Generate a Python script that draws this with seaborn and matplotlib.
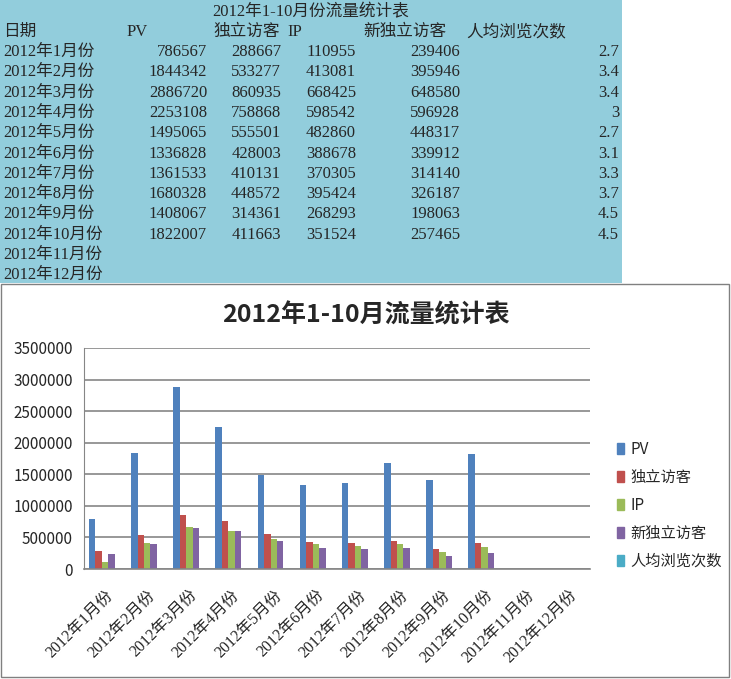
import numpy as np
import pandas as pd
import matplotlib
matplotlib.use("Agg")
import matplotlib.pyplot as plt
import matplotlib.patches as mpatches
import seaborn as sns

# data
months = ["2012年1月份", "2012年2月份", "2012年3月份", "2012年4月份", "2012年5月份",
          "2012年6月份", "2012年7月份", "2012年8月份", "2012年9月份", "2012年10月份",
          "2012年11月份", "2012年12月份"]
series = ["PV", "独立访客", "IP", "新独立访客", "人均浏览次数"]
pv = [786567, 1844342, 2886720, 2253108, 1495065, 1336828, 1361533, 1680328, 1408067, 1822007]
uv = [288667, 533277, 860935, 758868, 555501, 428003, 410131, 448572, 314361, 411663]
ip = [110955, 413081, 668425, 598542, 482860, 388678, 370305, 395424, 268293, 351524]
new_uv = [239406, 395946, 648580, 596928, 448317, 339912, 314140, 326187, 198063, 257465]
views_per = [2.7, 3.4, 3.4, 3, 2.7, 3.1, 3.3, 3.7, 4.5, 4.5]
yticks = [0, 500000, 1000000, 1500000, 2000000, 2500000, 3000000, 3500000]
colors = ["#4F81BD", "#C0504D", "#9BBB59", "#8064A2", "#4BACC6"]

table_title = "2012年1-10月份流量统计表"
chart_title = "2012年1-10月流量统计表"

sns.set_style("white")
plt.rcParams["font.family"] = ["Noto Sans CJK SC", "DejaVu Sans"]
serif = ["Liberation Serif", "Noto Sans CJK SC"]

W, H = 731, 679
fig = plt.figure(figsize=(W / 100, H / 100), dpi=100)


def fx(x):
    return x / W


def fy(y):
    return 1 - y / H


# spreadsheet block on top
fig.patches.append(mpatches.Rectangle((0, fy(283)), fx(622), 283 / H,
                                      transform=fig.transFigure,
                                      facecolor="#92CDDC", edgecolor="none", zorder=0))
fig.patches.append(mpatches.Rectangle((fx(1), fy(677)), fx(728), (677 - 284) / H,
                                      transform=fig.transFigure,
                                      facecolor="none", edgecolor="#808080", lw=1, zorder=0))

tsize = 12
fig.text(fx(311), fy(12), table_title, ha="center", va="center", fontsize=tsize, family=serif)
headers = ["日期", "PV", "独立访客", "IP", "新独立访客", "人均浏览次数"]
header_x = [3, 127, 213, 287, 363, 466]
for h, x in zip(headers, header_x):
    fig.text(fx(x), fy(32), h, ha="left", va="center", fontsize=tsize, family=serif)

cols = [pv, uv, ip, new_uv, views_per]
col_right = [207, 281, 356, 460, 619]
for i, m in enumerate(months):
    y = 52 + 20.3 * i
    fig.text(fx(3), fy(y), m, ha="left", va="center", fontsize=tsize, family=serif)
    if i < len(pv):
        for vals, xr in zip(cols, col_right):
            fig.text(fx(xr), fy(y), str(vals[i]), ha="right", va="center",
                     fontsize=tsize, family=serif)

# chart
df = pd.DataFrame({"月份": months[:len(pv)], "PV": pv, "独立访客": uv, "IP": ip,
                   "新独立访客": new_uv, "人均浏览次数": views_per})
long = df.melt(id_vars="月份", var_name="指标", value_name="值")

ax = fig.add_axes([fx(84), fy(569), fx(590) - fx(84), fy(348) - fy(569)])
sns.barplot(data=long, x="月份", y="值", hue="指标", order=months, hue_order=series,
            palette=colors, width=0.77, saturation=1, errorbar=None, linewidth=0,
            legend=False, ax=ax)

ax.set_ylim(0, 3500000)
ax.set_yticks(yticks)
ax.set_yticklabels([str(t) for t in yticks], fontsize=11)
ax.set_xlabel("")
ax.set_ylabel("")
ax.grid(axis="y", color="#868686", lw=1.2)
ax.set_axisbelow(True)
for s in ["top", "right"]:
    ax.spines[s].set_visible(False)
ax.spines["left"].set_color("#868686")
ax.spines["bottom"].set_color("#868686")
ax.spines["bottom"].set_linewidth(1.2)
ax.tick_params(axis="y", length=0, pad=8)
ax.tick_params(axis="x", length=0, pad=13)
for lab in ax.get_xticklabels():
    lab.set_rotation(45)
    lab.set_ha("right")
    lab.set_rotation_mode("anchor")
    lab.set_fontsize(11.5)
    lab.set_family(serif)

fig.text(fx(366), fy(315), chart_title, ha="center", va="center", fontsize=18,
         fontweight="bold")

handles = [mpatches.Patch(color=c, label=s) for c, s in zip(colors, series)]
fig.legend(handles=handles, loc="center left", bbox_to_anchor=(fx(603), fy(505)),
           frameon=False, fontsize=11, handlelength=0.5, handleheight=0.7,
           handletextpad=0.4, labelspacing=0.72)

fig.savefig("out.png", dpi=100)
